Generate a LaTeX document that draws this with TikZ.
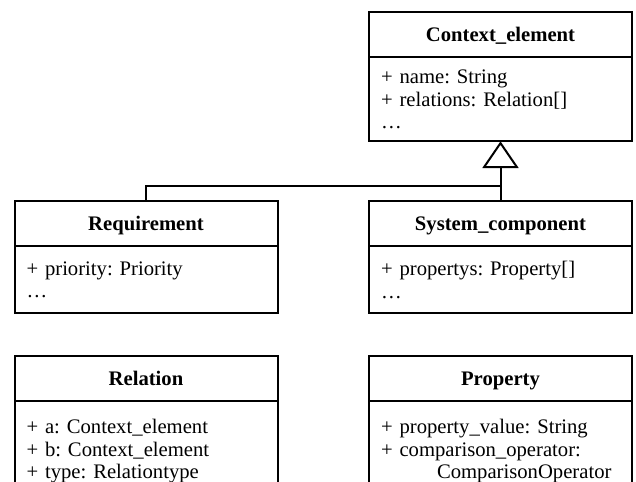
\documentclass[tikz,border=0pt]{standalone}
\usepackage{fontspec}
\setmainfont{Liberation Serif}
\usetikzlibrary{arrows.meta}
\frenchspacing

\begin{document}
\begin{tikzpicture}[
  x=0.75pt, y=-0.75pt,
  font=\fontsize{15.5}{16.9}\selectfont,
  classhead/.style={draw, line width=1.5pt, anchor=north, outer sep=0pt,
    font=\fontsize{15.5}{16.9}\selectfont\bfseries,
    minimum width=197.25pt, minimum height=34pt, inner sep=0pt,
    text height=11pt, text depth=1pt},
  classbody/.style={draw, line width=1.5pt, anchor=north, outer sep=0pt, align=left,
    inner xsep=9pt, text width=179.25pt, minimum height=#1},
  link/.style={line width=1.5pt},
  inherit/.style={line width=1.5pt, -{Triangle[open, length=20pt, width=27pt]}}
]
\clip (0,0) rectangle (636,482);

% parent class
\node[classhead] (ctx) at (500.5,12) {Context\_element};
\node[classbody=63pt] (ctxbody) at (ctx.south)
  {+ name: String\\+ relations: Relation[]\\\ldots};

% subclasses
\node[classhead] (req) at (146,201) {Requirement};
\node[classbody=50.25pt] (reqbody) at (req.south)
  {+ priority: Priority\\\ldots};

\node[classhead] (sys) at (500.5,201) {System\_component};
\node[classbody=50.25pt] (sysbody) at (sys.south)
  {+ propertys: Property[]\\\ldots};

% other classes
\node[classhead] (rel) at (146,356) {Relation};
\node[classbody=75pt] (relbody) at (rel.south)
  {+ a: Context\_element\\+ b: Context\_element\\+ type: Relationtype};

\node[classhead] (prop) at (500.5,356) {Property};
\node[classbody=75pt] (propbody) at (prop.south)
  {+ property\_value: String\\+ comparison\_operator:\\\hspace*{42pt}ComparisonOperator};

% generalization
\coordinate (join) at (500.5,186);
\draw[inherit] (sys.north) -- (ctxbody.south);
\draw[link] (req.north) |- (join);

\end{tikzpicture}
\end{document}
